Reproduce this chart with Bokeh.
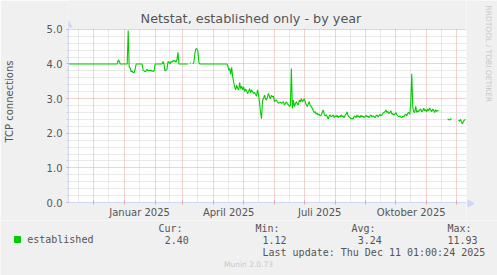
import math
import numpy as np
import pandas as pd
from bokeh.plotting import figure
from bokeh.layouts import column, row
from bokeh.models import (Range1d, FixedTicker, PrintfTickFormatter, Label, BoxAnnotation)
from bokeh.embed import file_html
from bokeh.resources import INLINE

nan = float("nan")

chart_title = "Netstat, established only - by year"
y_title = "TCP connections"
series_name = "established"
range_start = "2024-11-06 01:00"
range_end = "2025-12-11 01:00"

# one value per day, starting at range_start (NaN = no data)
connections = [
    4.0, 4.0, 4.0, 4.0, 4.0, 4.0, 4.0, 4.0, 4.0, 4.0,
    4.0, 4.0, 4.0, 4.0, 4.0, 4.0, 4.0, 4.0, 4.0, 4.0,
    4.0, 4.0, 4.0, 4.0, 4.0, 4.0, 4.0, 4.0, 4.0, 4.0,
    4.0, 4.0, 4.0, 4.0, 4.0, 4.0, 4.0, 4.0, 4.0, 4.0,
    4.0, 4.0, 4.0, 4.0, 4.0, 4.0, 4.0, 4.0, 4.0, 4.0,
    4.12, 4.08, 4.0, 4.0, 4.0, 4.0, 4.0, 4.0, 4.0, 4.0,
    4.97, 3.91, 3.88, 3.77, 3.8, 3.75, 3.75, 3.85, 4.0, 4.0,
    4.0, 4.0, 4.0, 4.0, 4.0, 3.82, 3.8, 3.77, 3.8, 3.85,
    3.8, 3.82, 3.8, 3.82, 3.79, 3.8, 3.79, 4.0, 4.0, 4.0,
    4.0, 4.0, 4.0, 4.0, 4.0, 4.07, 4.0, 3.8, 3.82, 3.85,
    4.07, 4.05, 4.0, 4.07, 4.05, 4.1, 4.08, 4.1, 4.05, 4.12,
    4.34, 4.0, 4.0, 4.0, 4.0, 4.0, 4.0, 4.0, 4.0, 4.0,
    4.0, nan, 4.03, 4.03, nan, 4.0, 4.05, 4.3, 4.44, 4.44,
    4.38, 4.05, 4.0, 4.0, 4.0, 4.0, 4.0, 4.0, 4.0, 4.0,
    4.0, 4.0, 4.0, 4.0, 4.0, 4.0, 4.0, 4.0, 4.0, 4.0,
    4.0, 4.0, 4.0, 4.0, 4.0, 4.0, 4.0, 4.0, 4.0, 4.0,
    3.96, 3.82, 3.87, 3.7, 3.9, 3.63, 3.48, 3.34, 3.25, 3.39,
    3.3, 3.25, 3.46, 3.29, 3.36, 3.25, 3.34, 3.2, 3.28, 3.22,
    3.15, 3.2, 3.29, 3.17, 3.25, 3.2, 3.15, 3.18, 3.12, 3.07,
    3.25, 3.1, 2.9, 2.6, 2.42, 2.95, 3.0, 3.1, 3.0, 2.96,
    3.05, 3.15, 3.05, 3.0, 3.1, 3.05, 3.07, 2.91, 2.95, 2.96,
    2.9, 2.87, 2.88, 2.9, 2.87, 2.88, 2.91, 2.82, 2.85, 2.91,
    2.85, 2.82, 2.77, 2.8, 3.87, 2.72, 2.96, 2.77, 2.85, 2.91,
    2.85, 2.82, 2.96, 2.9, 3.0, 2.91, 2.95, 3.0, 2.9, 2.82,
    2.77, 2.85, 2.91, 2.8, 2.77, 2.72, 2.65, 2.6, 2.62, 2.55,
    2.58, 2.53, 2.55, 2.5, 2.53, 2.6, 2.67, 2.55, 2.5, 2.53,
    2.48, 2.41, 2.5, 2.53, 2.47, 2.5, 2.53, 2.45, 2.5, 2.48,
    2.52, 2.45, 2.5, 2.47, 2.53, 2.48, 2.5, 2.45, 2.52, 2.55,
    2.62, 2.5, 2.47, 2.45, 2.41, 2.43, 2.41, 2.48, 2.5, 2.45,
    2.53, 2.47, 2.5, 2.45, 2.52, 2.47, 2.5, 2.45, 2.48, 2.52,
    2.47, 2.5, 2.45, 2.5, 2.53, 2.47, 2.5, 2.48, 2.45, 2.5,
    2.53, 2.47, 2.5, 2.55, 2.5, 2.53, 2.58, 2.6, 2.62, 2.67,
    2.6, 2.63, 2.57, 2.6, 2.65, 2.55, 2.57, 2.52, 2.55, 2.6,
    2.53, 2.5, 2.48, 2.5, 2.47, 2.45, 2.5, 2.47, 2.52, 2.55,
    2.5, 2.58, 2.6, 2.55, 2.9, 3.72, 2.75, 2.62, 2.6, 2.78,
    2.6, 2.65, 2.62, 2.68, 2.7, 2.62, 2.65, 2.72, 2.65, 2.68,
    2.62, 2.7, 2.65, 2.73, 2.68, 2.62, 2.7, 2.66, 2.6, 2.68,
    2.63, 2.66, 2.64, nan, nan, nan, nan, nan, nan, nan,
    nan, 2.42, 2.4, 2.38, 2.42, 2.4, nan, nan, nan, nan,
    nan, nan, 2.38, 2.35, 2.4, 2.32, 2.27, 2.35, 2.38, 2.4,
]

y_max = 5.0
y_major = [0, 1, 2, 3, 4, 5]
y_minor = [0.2, 0.4, 0.6, 0.8, 1.2, 1.4, 1.6, 1.8, 2.2, 2.4, 2.6, 2.8,
           3.2, 3.4, 3.6, 3.8, 4.2, 4.4, 4.6, 4.8]
month_starts = ["2024-12-01", "2025-01-01", "2025-02-01", "2025-03-01", "2025-04-01",
                "2025-05-01", "2025-06-01", "2025-07-01", "2025-08-01", "2025-09-01",
                "2025-10-01", "2025-11-01", "2025-12-01"]
month_mids = ["2024-11-16", "2024-12-16", "2025-01-16", "2025-02-16", "2025-03-16",
              "2025-04-16", "2025-05-16", "2025-06-16", "2025-07-16", "2025-08-16",
              "2025-09-16", "2025-10-16", "2025-11-16"]
label_positions = ["2025-01-16 12:00", "2025-04-16 00:00", "2025-07-16 12:00", "2025-10-16 12:00"]
label_texts = ["Januar 2025", "April 2025", "Juli 2025", "Oktober 2025"]

stat_names = ["Cur:", "Min:", "Avg:", "Max:"]
stat_values = ["2.40", "1.12", "3.24", "11.93"]
last_update = "Last update: Thu Dec 11 01:00:24 2025"
version_text = "Munin 2.0.73"
side_text = "RRDTOOL / TOBI OETIKER"


def ms(s):
    return int(pd.Timestamp(s).value // 10**6)


dates = pd.date_range(range_start, periods=len(connections), freq="D")
y = np.array(connections, dtype=float)

FONT = "DejaVu Sans"
MONO = "DejaVu Sans Mono"
TXT = "#555555"
AXIS = "#CFD6F8"
MGRID = "#e9a3a3"
GRID = "#d2d2d2"
BG = "#f0f0f0"

# frame: x 66..466, y 0..203 (canvas px); value 5.0 sits 29 px below the top
PX = 34.8  # px per unit
x0, x1 = ms(range_start), ms(range_end)
p = figure(width=466, height=220, x_axis_type="datetime",
           x_range=Range1d(x0, x1), y_range=Range1d(0, y_max + 29 / PX),
           output_backend="svg", toolbar_location=None,
           min_border_left=66, min_border_right=0, min_border_top=0, min_border_bottom=17,
           background_fill_color=BG, border_fill_color=BG, outline_line_color=None)

# white canvas below 5.0 (under the grid), grey cover above it (over the grid)
p.add_layout(BoxAnnotation(bottom=0, top=y_max, fill_color="white", fill_alpha=1,
                           line_color=None, level="image"))
p.add_layout(BoxAnnotation(bottom=y_max + 0.6 / PX, fill_color=BG, fill_alpha=1,
                           line_color=None, level="underlay"))

p.line(x=dates, y=y, line_color="#00cc00", line_width=1.1)

xg = p.xgrid[0]
xg.ticker = FixedTicker(ticks=[ms(d) for d in month_starts], minor_ticks=[ms(d) for d in month_mids])
for g in (xg, p.ygrid[0]):
    g.grid_line_color = MGRID
    g.grid_line_dash = "1 1"
    g.minor_grid_line_color = GRID
    g.minor_grid_line_dash = "1 1"

xa = p.xaxis[0]
label_ms = [ms(d) for d in label_positions]
xa.ticker = FixedTicker(ticks=label_ms, minor_ticks=[ms(d) for d in month_starts])
xa.major_label_overrides = {k: t for k, t in zip(label_ms, label_texts)}
xa.major_tick_in = 0
xa.major_tick_out = 0
xa.major_tick_line_color = None
xa.minor_tick_in = 2
xa.minor_tick_out = 2
xa.minor_tick_line_color = MGRID
xa.axis_line_color = AXIS
xa.major_label_standoff = 2
xa.major_label_text_font = FONT
xa.major_label_text_font_size = "10px"
xa.major_label_text_color = TXT

ya = p.yaxis[0]
ya.ticker = FixedTicker(ticks=y_major, minor_ticks=y_minor)
ya.bounds = (0, y_max)
ya.formatter = PrintfTickFormatter(format="%.1f")
ya.major_tick_in = 0
ya.major_tick_out = 2
ya.major_tick_line_color = MGRID
ya.minor_tick_in = 0
ya.minor_tick_out = 2
ya.minor_tick_line_color = GRID
ya.axis_line_color = AXIS
ya.major_label_standoff = 4
ya.major_label_text_font = FONT
ya.major_label_text_font_size = "10px"
ya.major_label_text_color = TXT
ya.axis_label = y_title
ya.axis_label_text_font = FONT
ya.axis_label_text_font_size = "10px"
ya.axis_label_text_font_style = "normal"
ya.axis_label_text_color = TXT
ya.axis_label_standoff = 29

# y axis arrow (axis line stub + head above 5.0)
p.segment(x0=[x0], y0=[y_max], x1=[x0], y1=[y_max + 5 / PX], line_color=AXIS, line_width=1)
p.scatter(x=[x0], y=[y_max + 4.5 / PX], marker="triangle", size=7,
          fill_color=AXIS, line_color=AXIS)

# title (inside the frame's grey top band)
p.add_layout(Label(x=248.5 - 66, y=203 - 19, x_units="screen", y_units="screen",
                   text=chart_title, text_font=FONT, text_font_size="12.8px",
                   text_color=TXT, text_align="center", text_baseline="middle"))


def strip(w, h, xa0, xa1, ya0, ya1):
    f = figure(width=w, height=h, x_range=Range1d(xa0, xa1), y_range=Range1d(ya0, ya1),
               x_axis_location=None, y_axis_location=None, output_backend="svg",
               toolbar_location=None, min_border=0, background_fill_color=BG,
               border_fill_color=BG, outline_line_color=None)
    f.grid.visible = False
    return f


def lab(f, text, x, yy, font=FONT, size="10px", color=TXT, align="left", baseline="middle", angle=0.0):
    f.add_layout(Label(x=x, y=yy, text=text, text_font=font, text_font_size=size,
                       text_color=color, text_align=align, text_baseline=baseline, angle=angle))


# ---- right strip (canvas x 466..497, y 0..220)
side = strip(31, 220, 466, 497, 220, 0)
lab(side, side_text, 487.5, 5, size="7.5px", color="#c8c8c8", angle=-math.pi / 2)
side.segment(x0=[466], y0=[203], x1=[470], y1=[203], line_color=AXIS, line_width=1)
side.scatter(x=[469.5], y=[203], marker="triangle", angle=-math.pi / 2, size=7,
             fill_color=AXIS, line_color=AXIS)

# ---- legend strip (canvas y 220..275, x 0..497)
leg = strip(497, 55, 0, 497, 275, 220)
leg.scatter(x=[17], y=[239], marker="square", size=6, fill_color="#00cc00", line_color="#00cc00")
lab(leg, series_name, 26.7, 239.3, font=MONO)
name_x = [158, 255, 351, 447]
val_x = [164.3, 262, 357.3, 447]
for nm, nx in zip(stat_names, name_x):
    lab(leg, nm, nx, 227.7, font=MONO)
for v, vx in zip(stat_values, val_x):
    lab(leg, v, vx, 239.3, font=MONO)
lab(leg, last_update, 262, 251.7, font=MONO)
lab(leg, version_text, 248, 264, size="7.5px", color="#c8c8c8", align="center")

layout = column(row(column(p, spacing=0), column(side, spacing=0), spacing=0), leg, spacing=0)
open("out.html", "w").write(file_html(layout, INLINE))
